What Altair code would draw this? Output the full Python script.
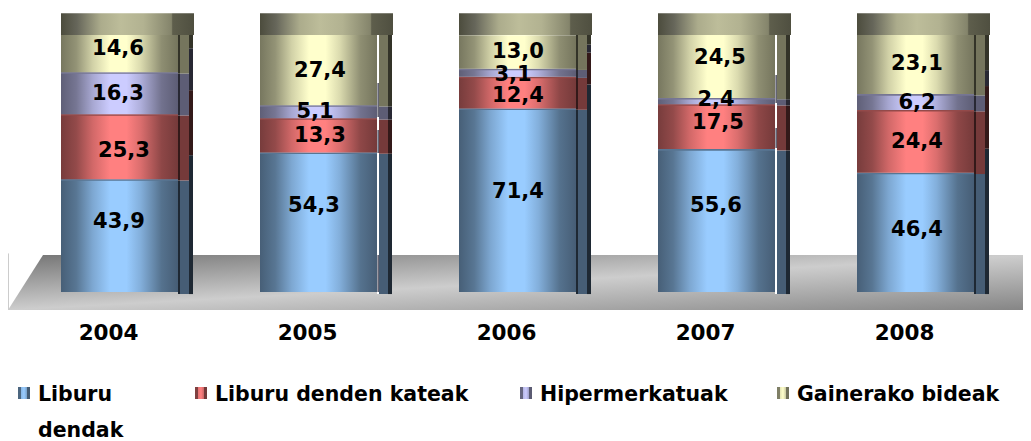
import altair as alt
import pandas as pd

years = [2004, 2005, 2006, 2007, 2008]
series = ["Liburu dendak", "Liburu denden kateak", "Hipermerkatuak", "Gainerako bideak"]
liburu = [43.9, 54.3, 71.4, 55.6, 46.4]
kateak = [25.3, 13.3, 12.4, 17.5, 24.4]
hiper = [16.3, 5.1, 3.1, 2.4, 6.2]
gainerako = [14.6, 27.4, 13.0, 24.5, 23.1]
labels = [["43,9", "25,3", "16,3", "14,6"], ["54,3", "13,3", "5,1", "27,4"],
          ["71,4", "12,4", "3,1", "13,0"], ["55,6", "17,5", "2,4", "24,5"],
          ["46,4", "24,4", "6,2", "23,1"]]
# label placement on the page, pixels
label_px = [[119, 124, 118, 118], [314, 320, 315, 320], [518, 518, 513, 518], [716, 718, 716, 720], [917, 917, 917, 917]]
label_py = [[220, 149, 92, 47], [204, 134, 110, 69], [190, 94, 73, 50], [204, 121, 98, 56], [228, 140, 101, 62]]
year_offset = -0.055
# years whose side strip is split by a thin gap, with the darker pieces in that gap (page pixels)
gap_pieces = {2005: [(83, 117), (130, 153), (255, 292)], 2007: [(75, 103), (128, 148)]}

W, H = 1015, 433
PX_YEAR = 199.0
PX_VAL = 2.57
x_dom = [2004 - 111.5 / PX_YEAR, 2004 - 111.5 / PX_YEAR + W / PX_YEAR]
y_dom = [(292 - 441) / PX_VAL, (292 - 8) / PX_VAL]
xs = alt.Scale(domain=x_dom, nice=False, zero=False)
ys = alt.Scale(domain=y_dom, nice=False, zero=False)

HALF = 58.5 / PX_YEAR
base = ["#99CCFF", "#FF8080", "#CCCCFF", "#FFFFCC"]


def shade(hexc, f):
    r, g, b = int(hexc[1:3], 16), int(hexc[3:5], 16), int(hexc[5:7], 16)
    return "#%02x%02x%02x" % (int(r * f), int(g * f), int(b * f))


def cyl(hexc, stops=((0, .47), (.13, .58), (.27, .82), (.42, 1), (.56, 1), (.68, .86), (.86, .56), (1, .46))):
    return alt.LinearGradient(gradient="linear", x1=0, x2=1, y1=0, y2=0,
                              stops=[alt.GradientStop(offset=o, color=shade(hexc, f)) for o, f in stops])


rows, txt = [], []
for i, y in enumerate(years):
    c = 0.0
    for j, v in enumerate([liburu[i], kateak[i], hiper[i], gainerako[i]]):
        rows.append(dict(year=y, s=j, lo=c, hi=c + v, lab=labels[i][j],
                         side=shade(base[j], .46), dark=shade(base[j], .2)))
        txt.append(dict(px=label_px[i][j] - 8, py=label_py[i][j] - 8 + 1.5, lab=labels[i][j]))
        c += v
df = pd.DataFrame(rows)
df["x0"] = df.year - HALF
df["x1"] = df.year + HALF
SHIFT = 24 / PX_VAL
df["lo_back"] = (df.lo + SHIFT).where(df.s > 0, -0.8)
df["hi_back"] = (df.hi + SHIFT).clip(upper=100)
df["lo_side"] = (df.lo - 0.5).where(df.s > 0, -0.8)
df["hi_side"] = (df.hi - 0.5).where(df.s < 3, 100)
split = df.year.isin(list(gap_pieces))

ax = alt.X("x0:Q", scale=xs, axis=None)
ay = alt.Y("lo:Q", scale=ys, axis=None)

# floor
floor = pd.DataFrame({"x": [x_dom[0], x_dom[0] + 35 / PX_YEAR, x_dom[1] + 8 / PX_YEAR],
                      "top": [-7.0, 14.4, 14.4], "bot": [-7.0, -7.0, -7.0]})
floor_grad = alt.LinearGradient(gradient="linear", x1=0, y1=0, x2=1, y2=1, stops=[
    alt.GradientStop(offset=0, color="#757575"), alt.GradientStop(offset=0.5, color="#cdcdcd"),
    alt.GradientStop(offset=1, color="#858585")])
layers = [
    alt.Chart(floor).mark_area(color=floor_grad, clip=True).encode(
        x=alt.X("x:Q", scale=xs, axis=None), y=alt.Y("top:Q", scale=ys, axis=None), y2="bot:Q"),
    alt.Chart(pd.DataFrame({"x": [x_dom[0] + 0.5 / PX_YEAR], "a": [-7.0], "b": [15.0]})).mark_rule(
        color="#cccccc", strokeWidth=1).encode(
        x=alt.X("x:Q", scale=xs, axis=None), y=alt.Y("a:Q", scale=ys, axis=None), y2="b:Q"),
]

d = df.copy()
d["sx0"] = d.year + 58.5 / PX_YEAR
d["sx1"] = d.year + 60.5 / PX_YEAR
d["mx1"] = d.year + 69.5 / PX_YEAR
d["bx1"] = d.year + 73.5 / PX_YEAR
back = d[(d.lo_back < 100) & ~split].copy()
flat = d[split].copy()
edge = d[~split].copy()


def rect(frame, a, b, lo, hi, color):
    return alt.Chart(frame).mark_rect().encode(
        x=alt.X(f"{a}:Q", scale=xs, axis=None), x2=f"{b}:Q",
        y=alt.Y(f"{lo}:Q", scale=ys, axis=None), y2=f"{hi}:Q",
        color=alt.Color(f"{color}:N", scale=None))


layers += [
    rect(back, "mx1", "bx1", "lo_back", "hi_back", "dark"),
    rect(flat, "mx1", "bx1", "lo_side", "hi_side", "dark"),
    rect(d, "sx1", "mx1", "lo_side", "hi_side", "side"),
    rect(edge, "sx0", "sx1", "lo_side", "hi_side", "dark"),
]
# gap in the split years: white line with dark pieces
pieces = pd.DataFrame([dict(a=y + 59 / PX_YEAR, b=y + 60.3 / PX_YEAR, lo=(292 - q) / PX_VAL, hi=(292 - p) / PX_VAL)
                       for y, ps in gap_pieces.items() for p, q in ps])
gap = pd.DataFrame([dict(a=y + 58.5 / PX_YEAR, b=y + 60.5 / PX_YEAR, lo=-0.8, hi=100.0) for y in gap_pieces])
layers += [
    alt.Chart(gap).mark_rect(color="#ffffff").encode(
        x=alt.X("a:Q", scale=xs, axis=None), x2="b:Q", y=alt.Y("lo:Q", scale=ys, axis=None), y2="hi:Q"),
    alt.Chart(pieces).mark_rect(color="#3b3b4e").encode(
        x=alt.X("a:Q", scale=xs, axis=None), x2="b:Q", y=alt.Y("lo:Q", scale=ys, axis=None), y2="hi:Q"),
]

for j, b in enumerate(base):
    sub = df[df.s == j]
    layers.append(alt.Chart(sub).mark_rect(color=cyl(b)).encode(x=ax, x2="x1:Q", y=ay, y2="hi:Q"))
    if j < 3:
        layers.append(alt.Chart(sub).mark_rect(color=shade(b, .58)).encode(
            x=ax, x2="x1:Q",
            y=alt.Y("hi:Q", scale=ys, axis=None),
            y2=alt.Y2("hi2:Q")).transform_calculate(hi2="datum.hi - 0.6"))

# top cap
cap = pd.DataFrame({"year": years})
cap["x0"] = cap.year - HALF
cap["x1"] = cap.year + 74.5 / PX_YEAR
cap["a"] = 100.0
cap["b"] = 108.5
cap_grad = alt.LinearGradient(gradient="linear", x1=0, x2=1, y1=0, y2=0, stops=[
    alt.GradientStop(offset=o, color=c) for o, c in
    [(0, "#4c4c3d"), (.12, "#66665a"), (.3, "#acac8c"), (.45, "#bdbd9a"), (.62, "#b2b291"),
     (.83, "#84846b"), (.84, "#5e5e4c"), (1, "#4f4f40")]])
layers.append(alt.Chart(cap).mark_rect(color=cap_grad).encode(
    x=alt.X("x0:Q", scale=xs, axis=None), x2="x1:Q", y=alt.Y("a:Q", scale=ys, axis=None), y2="b:Q"))

# value labels
layers.append(alt.Chart(pd.DataFrame(txt)).mark_text(font="DejaVu Sans", fontWeight="bold", fontSize=21, color="#000000",
                                                     baseline="middle", align="center").encode(
    x=alt.X("px:Q", scale=None), y=alt.Y("py:Q", scale=None), text="lab:N"))

# year labels
yl = pd.DataFrame({"year": years})
yl["lx"] = yl.year + year_offset
yl["txt"] = yl.year.astype(str)
yl["ly"] = -16.4
layers.append(alt.Chart(yl).mark_text(font="DejaVu Sans", fontWeight="bold", fontSize=21.5, color="#000000",
                                      baseline="middle", align="center").encode(
    x=alt.X("lx:Q", scale=xs, axis=None), y=alt.Y("ly:Q", scale=ys, axis=None), text="txt:N"))

# legend
leg_px = [18, 195, 520, 777]
leg_tx = [38, 215, 540, 797]
leg_lines = [["Liburu", "dendak"], ["Liburu denden kateak"], ["Hipermerkatuak"], ["Gainerako bideak"]]
SW = (0, .5), (.25, .5), (.26, .9), (.5, 1), (.74, .8), (.75, .45), (1, .45)
for j, b in enumerate(base):
    layers.append(alt.Chart(pd.DataFrame({"k": [0]})).mark_rect(color=cyl(b, SW)).encode(
        x=alt.value(leg_px[j] - 8), x2=alt.value(leg_px[j] + 4), y=alt.value(387 - 8), y2=alt.value(399 - 8)))
    for n, line in enumerate(leg_lines[j]):
        layers.append(alt.Chart(pd.DataFrame({"t": [line]})).mark_text(
            font="DejaVu Sans", fontWeight="bold", fontSize=20.5, color="#000000", align="left", baseline="middle").encode(
            x=alt.value(leg_tx[j] - 8), y=alt.value(395 - 8 + 36 * n), text="t:N"))

chart = alt.layer(*layers).properties(width=W, height=H, padding=0, autosize=alt.AutoSizeParams(type="none")).configure_view(stroke=None)
chart.save("out.html", embed_options={"renderer": "svg", "actions": False})
